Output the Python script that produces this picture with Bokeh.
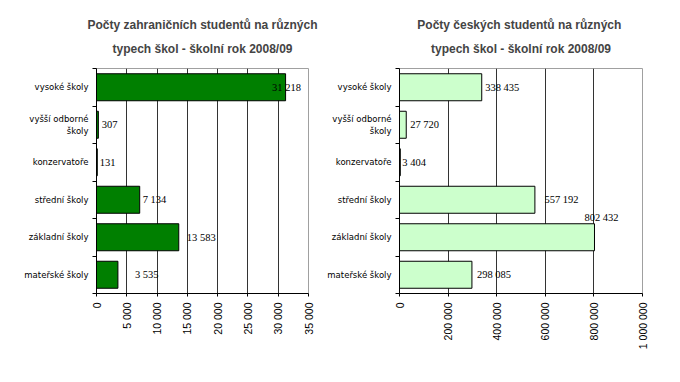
import math
from bokeh.plotting import figure
from bokeh.layouts import row
from bokeh.models import (Range1d, LinearAxis, FixedTicker,
                          ColumnDataSource, LabelSet, Title)
from bokeh.embed import file_html
from bokeh.resources import INLINE

# ---- data ----
categories = ["vysoké školy", "vyšší odborné\nškoly", "konzervatoře",
              "střední školy", "základní školy", "mateřské školy"]
foreign_students = [31218, 307, 131, 7134, 13583, 3535]
czech_students = [338435, 27720, 3404, 557192, 802432, 298085]

foreign_ticks = [0, 5000, 10000, 15000, 20000, 25000, 30000, 35000]
foreign_tick_labels = ["0", "5 000", "10 000", "15 000", "20 000", "25 000", "30 000", "35 000"]
czech_ticks = [0, 200000, 400000, 600000, 800000, 1000000]
czech_tick_labels = ["0", "200 000", "400 000", "600 000", "800 000", "1 000 000"]

title_foreign = ["Počty zahraničních studentů na různých", "typech škol - školní rok 2008/09"]
title_czech = ["Počty českých studentů na  různých", "typech škol - školní rok 2008/09"]

# ---- styles ----
FONT = "Liberation Sans"
CAT_FONT = "DejaVu Sans"
foreign_dx = [-13.5, 3.5, 2.5, 3, 8, 17]
foreign_dy = [0, 0, 0, 0, -0.5, 0]
czech_dx = [3.5, 4, 2, 9.5, -10, 5]
czech_dy = [0, 0, 0, 0, 19.5, 0]


def fmt(v):
    return f"{v:,}".replace(",", " ")


n = len(categories)
# category i (top to bottom) sits at position n-1-i on a numeric axis
cat_pos = [n - 1 - i for i in range(n)]


def make_chart(values, ticks, tick_labels, xmax, title, fill, dx, dy,
               frame_w, left_border, right_border, title_offset):
    p = figure(frame_width=frame_w, frame_height=225,
               y_range=Range1d(-0.5, n - 0.5),
               x_range=Range1d(0, xmax),
               y_axis_location=None, x_axis_location=None,
               output_backend="svg", toolbar_location=None,
               min_border_left=left_border, min_border_right=right_border,
               min_border_top=68, min_border_bottom=68)
    p.outline_line_color = "#a0a0a0"
    p.outline_line_width = 1
    p.background_fill_color = "white"
    p.border_fill_color = "white"

    src = ColumnDataSource(dict(pos=cat_pos, val=values,
                                lab=[fmt(v) for v in values], dx=dx, dy=dy))
    p.hbar(y="pos", left=0, right="val", height=0.72, source=src,
           fill_color=fill, line_color="black", line_width=1)
    p.add_layout(LabelSet(x="val", y="pos", text="lab", source=src,
                          x_offset="dx", y_offset="dy",
                          text_align="left", text_baseline="middle",
                          text_font=FONT, text_font_size="10.5px", text_color="black"))

    # grid
    p.xgrid.ticker = FixedTicker(ticks=ticks[1:-1])
    p.xgrid.grid_line_color = "#333333"
    p.ygrid.grid_line_color = None

    # x axis
    xa = LinearAxis(ticker=FixedTicker(ticks=ticks),
                    major_label_overrides={t: l for t, l in zip(ticks, tick_labels)})
    xa.major_label_orientation = math.pi / 2
    xa.major_tick_out = 3
    xa.major_tick_in = 0
    xa.minor_tick_line_color = None
    xa.axis_line_color = "black"
    xa.major_tick_line_color = "black"
    xa.major_label_standoff = 6
    xa.major_label_text_font = FONT
    xa.major_label_text_font_size = "10.5px"
    xa.major_label_text_color = "black"
    p.add_layout(xa, "below")

    # y axis: boundary ticks (inner) + category labels (outer)
    ya = LinearAxis(ticker=FixedTicker(ticks=[k - 0.5 for k in range(n + 1)]))
    ya.major_tick_out = 4
    ya.major_tick_in = 0
    ya.minor_tick_line_color = None
    ya.axis_line_color = "black"
    ya.major_tick_line_color = "black"
    ya.major_label_standoff = 0
    ya.major_label_text_font_size = "0px"
    ya.major_label_text_color = None
    p.add_layout(ya, "left")

    ca = LinearAxis(ticker=FixedTicker(ticks=cat_pos),
                    major_label_overrides={pos: c for pos, c in zip(cat_pos, categories)})
    ca.axis_line_color = None
    ca.major_tick_line_color = None
    ca.minor_tick_line_color = None
    ca.major_tick_out = 0
    ca.major_tick_in = 0
    ca.major_label_standoff = 4
    ca.major_label_text_font = CAT_FONT
    ca.major_label_text_font_size = "8.5px"
    ca.major_label_text_color = "black"
    p.add_layout(ca, "left")

    # titles (second line first: later added sits further out)
    p.add_layout(Title(text=title[1], align="center", text_font=FONT,
                       text_font_size="12px", text_font_style="bold",
                       standoff=25, offset=title_offset), "above")
    p.add_layout(Title(text=title[0], align="center", text_font=FONT,
                       text_font_size="12px", text_font_style="bold",
                       standoff=-9, offset=title_offset), "above")
    return p


p1 = make_chart(foreign_students, foreign_ticks, foreign_tick_labels, 35000, title_foreign,
                "#007f00", foreign_dx, foreign_dy, 212, 96, 11, 2)
p2 = make_chart(czech_students, czech_ticks, czech_tick_labels, 1000000, title_czech,
                "#ccffcc", czech_dx, czech_dy, 243, 80, 20, 5.5)

layout = row(p1, p2)
open("out.html", "w").write(file_html(layout, INLINE))
